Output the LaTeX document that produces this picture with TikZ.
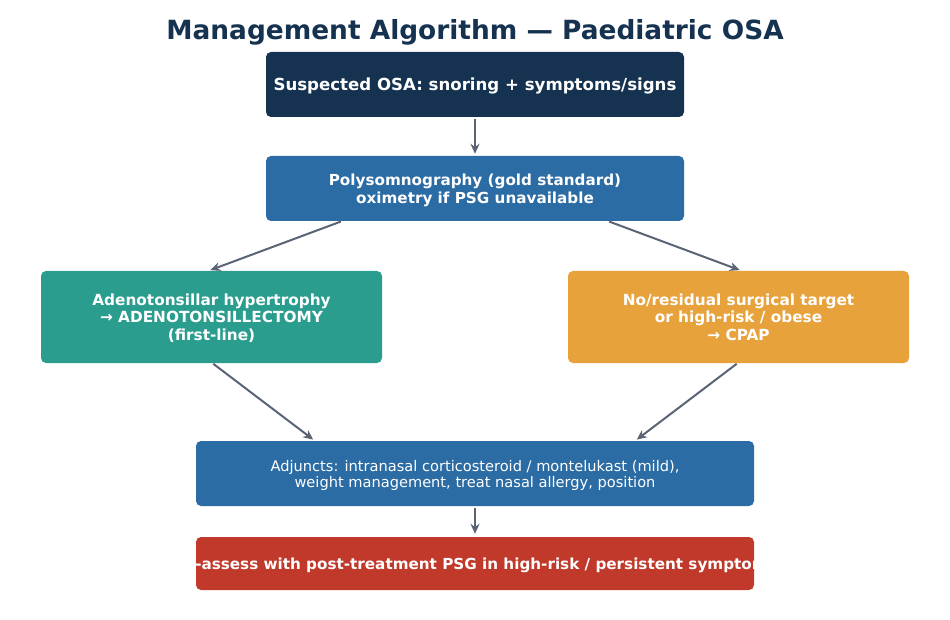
\documentclass[tikz,border=0pt]{standalone}
\usepackage{fontspec}
\setmainfont{DejaVu Sans}
\usetikzlibrary{arrows.meta,calc}
\definecolor{navy}{HTML}{153250}
\definecolor{steel}{HTML}{2C6CA4}
\definecolor{teal}{HTML}{2A9D8F}
\definecolor{amber}{HTML}{E8A23C}
\definecolor{brick}{HTML}{C0392B}
\definecolor{arrowgray}{HTML}{5A6474}
\begin{document}
\begin{tikzpicture}[x=1pt,y=-1pt,
  boxstyle/.style={rounded corners=5pt, inner sep=0pt, align=center, text=white, text depth=0pt},
  arr/.style={draw=arrowgray, line width=2pt, -{Stealth[length=10pt,width=9pt]}}]
\useasboundingbox (0,0) rectangle (950,620);
\fill[white] (0,0) rectangle (950,620);
\node[text=navy, text depth=0pt, font=\bfseries\fontsize{26.4}{30}\selectfont] (title) at (475,29) {Management Algorithm — Paediatric OSA};
\node[boxstyle, fill=navy, minimum width=418pt, minimum height=65pt, font=\bfseries\fontsize{16.6}{19}\selectfont] (b1) at (475,84.5) {Suspected OSA: snoring + symptoms/signs};
\node[boxstyle, fill=steel, minimum width=418pt, minimum height=65pt, font=\bfseries\fontsize{15.2}{17.5}\selectfont] (b2) at (475,188.5) {Polysomnography (gold standard)\\oximetry if PSG unavailable};
\node[boxstyle, fill=teal, minimum width=341pt, minimum height=92pt, font=\bfseries\fontsize{15.3}{17.8}\selectfont] (b3) at (211.5,317) {Adenotonsillar hypertrophy\\→ ADENOTONSILLECTOMY\\(first-line)};
\node[boxstyle, fill=amber, minimum width=341pt, minimum height=92pt, font=\bfseries\fontsize{15.3}{17.8}\selectfont] (b4) at (738.5,317) {No/residual surgical target\\or high-risk / obese\\→ CPAP};
\node[boxstyle, fill=steel, minimum width=558pt, minimum height=65pt, font=\fontsize{14.6}{16}\selectfont] (b5) at (475,473.5) {Adjuncts: intranasal corticosteroid / montelukast (mild),\\weight management, treat nasal allergy, position};
\node[boxstyle, fill=brick, minimum width=558pt, minimum height=53pt] (b6) at (475,563.5) {};
\begin{scope}
\clip[rounded corners=5pt] (b6.south west) rectangle (b6.north east);
\node[text=white, text depth=0pt, font=\bfseries\fontsize{15.2}{17}\selectfont, inner sep=0pt] (b6t) at (b6.center) {Re-assess with post-treatment PSG in high-risk / persistent symptoms};
\end{scope}
\draw[arr, shorten <=2pt, shorten >=2pt] (b1.south) -- (b2.north);
\draw[arr, shorten <=1pt, shorten >=2pt] ([xshift=76pt]b2.south west) -- ([xshift=-3pt]b3.north);
\draw[arr, shorten <=1pt, shorten >=2pt] ([xshift=-76pt]b2.south east) -- ([xshift=3pt]b4.north);
\draw[arr, shorten <=1pt, shorten >=2pt] ([xshift=1pt]b3.south) -- ([xshift=119pt]b5.north west);
\draw[arr, shorten <=1pt, shorten >=2pt] ([xshift=-1pt]b4.south) -- ([xshift=-119pt]b5.north east);
\draw[arr, shorten <=2pt, shorten >=3pt] (b5.south) -- (b6.north);
\end{tikzpicture}
\end{document}
